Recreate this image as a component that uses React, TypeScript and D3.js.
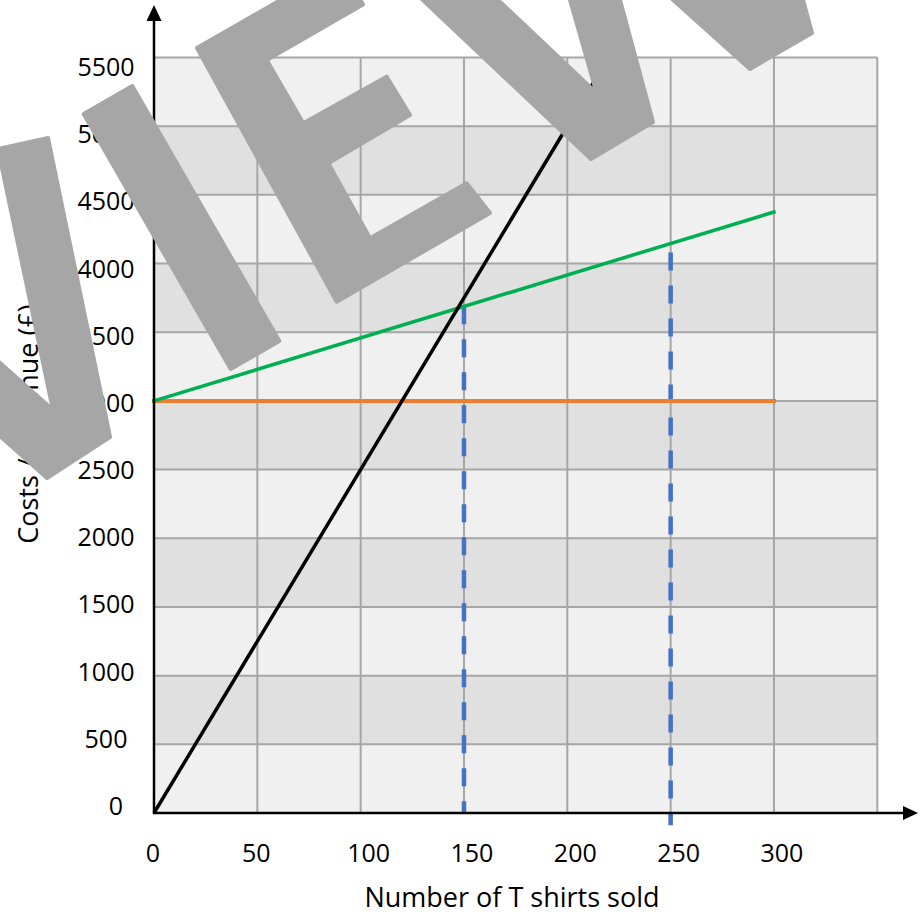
import React from "react";
import * as d3 from "d3";

// ---- data ----
const xTickValues = [0, 50, 100, 150, 200, 250, 300];
const xGridValues = [0, 50, 100, 150, 200, 250, 300, 350];
const yTickValues = [0, 500, 1000, 1500, 2000, 2500, 3000, 3500, 4000, 4500, 5000, 5500];

const revenue = [
  { q: 0, v: 0 },
  { q: 220, v: 5500 },
];
const totalCosts = [
  { q: 0, v: 3000 },
  { q: 300, v: 4375 },
];
const fixedCosts = [
  { q: 0, v: 3000 },
  { q: 300, v: 3000 },
];
const guideQ = [150, 250];
const guideFrom = [0, -90];
const guideTo = [3690, 4080];

const xTitle = "Number of T shirts sold";
const yTitle = "Costs / Revenue (£)";

// watermark ("PREVIEW" letters, rotated) – decorative shapes
const watermarkShapes: [number, number][][] = [
  // V
  [[-2, 149], [48, 138], [110, 437], [47, 478], [-80, 365], [-74, 297], [53, 410]],
  // I
  [[83.7, 114], [132.3, 86], [279.3, 341], [230.7, 369]],
  // E
  [[197, 48], [340.5, -34.5], [363, 4.5], [266.7, 60], [303.3, 123.3], [386.7, 76.7], [410, 115], [328.3, 163.3], [370, 238.3], [466.7, 183.3], [490, 213], [336.7, 301.7]],
  // W
  [[317, -100], [591, 159], [653, 122], [603, -63], [750, 69], [812, 33], [776, -100], [725, -100], [752, -1], [642.6, -100], [541.4, -100], [596.7, 93.3], [392.4, -100]],
];

const W = 924;
const H = 916;
const FONT = "'Open Sans', 'DejaVu Sans', sans-serif";

export default function App() {
  const x = d3.scaleLinear().domain([0, 350]).range([154, 877.3]);
  const y = d3.scaleLinear().domain([0, 5500]).range([813, 57.5]);
  const yLab = d3.scaleLinear().domain([0, 5500]).range([806, 67]);

  const line = d3
    .line<{ q: number; v: number }>()
    .x((d) => x(d.q))
    .y((d) => y(d.v));

  const bands = d3.range(0, 5500, 500);
  const poly = d3.line<[number, number]>().curve(d3.curveLinearClosed);

  const axisY0 = y(0);
  const axisX0 = x(0);

  return (
    <svg
      width={W}
      height={H}
      style={{ position: "absolute", left: 0, top: 0, background: "#fff" }}
      fontFamily={FONT}
    >
      {/* bands */}
      {bands.map((b, i) => (
        <rect
          key={"b" + b}
          x={x(0)}
          y={y(b + 500)}
          width={x(350) - x(0)}
          height={y(b) - y(b + 500)}
          fill={i % 2 === 0 ? "#f0f0f0" : "#e0e0e0"}
        />
      ))}
      {/* grid */}
      {xGridValues.map((v) => (
        <line key={"gx" + v} x1={x(v)} x2={x(v)} y1={y(0)} y2={y(5500)} stroke="#a6a6a6" strokeWidth={2} />
      ))}
      {yTickValues.map((v) => (
        <line key={"gy" + v} x1={x(0)} x2={x(350)} y1={y(v)} y2={y(v)} stroke="#a6a6a6" strokeWidth={2} />
      ))}

      {/* guides */}
      {guideQ.map((q, i) => (
        <line
          key={"g" + q}
          x1={x(q)}
          x2={x(q)}
          y1={y(guideTo[i])}
          y2={y(guideFrom[i])}
          stroke="#4472c4"
          strokeWidth={4.5}
          strokeDasharray="18 15"
        />
      ))}

      {/* series */}
      <path d={line(fixedCosts) || ""} fill="none" stroke="#ed7d31" strokeWidth={4} strokeLinecap="square" />
      <path d={line(totalCosts) || ""} fill="none" stroke="#00b050" strokeWidth={3.5} strokeLinecap="square" />
      <path d={line(revenue) || ""} fill="none" stroke="#000" strokeWidth={3.5} />

      {/* axes */}
      <line x1={axisX0} x2={axisX0} y1={axisY0 + 1} y2={18} stroke="#000" strokeWidth={2.5} />
      <path d={`M${axisX0},5 L${axisX0 - 7.5},21 L${axisX0 + 7.5},21 Z`} fill="#000" />
      <line x1={axisX0 - 1} x2={905} y1={axisY0} y2={axisY0} stroke="#000" strokeWidth={2.5} />
      <path d={`M918,${axisY0} L903,${axisY0 - 7} L903,${axisY0 + 7} Z`} fill="#000" />

      {/* tick labels */}
      {yTickValues.map((v) => (
        <text
          key={"yl" + v}
          x={v === 0 ? 116 : 106}
          y={yLab(v) + 9}
          fontSize={25}
          textAnchor="middle"
          fill="#000"
        >
          {v}
        </text>
      ))}
      {xTickValues.map((v) => (
        <text
          key={"xl" + v}
          x={x(v) + (String(v).length >= 3 ? 8 : -1)}
          y={862}
          fontSize={25}
          textAnchor="middle"
          fill="#000"
        >
          {v}
        </text>
      ))}

      {/* titles */}
      <text x={512} y={907} fontSize={27} textAnchor="middle" fill="#000">
        {xTitle}
      </text>
      <text
        transform={`translate(38,424) rotate(-90)`}
        fontSize={27}
        textAnchor="middle"
        fill="#000"
      >
        {yTitle}
      </text>

      {/* watermark */}
      {watermarkShapes.map((s, i) => (
        <path
          key={"w" + i}
          d={poly(s) || ""}
          fill="#a6a6a6"
          stroke="#a6a6a6"
          strokeWidth={4}
          strokeLinejoin="round"
        />
      ))}
    </svg>
  );
}
